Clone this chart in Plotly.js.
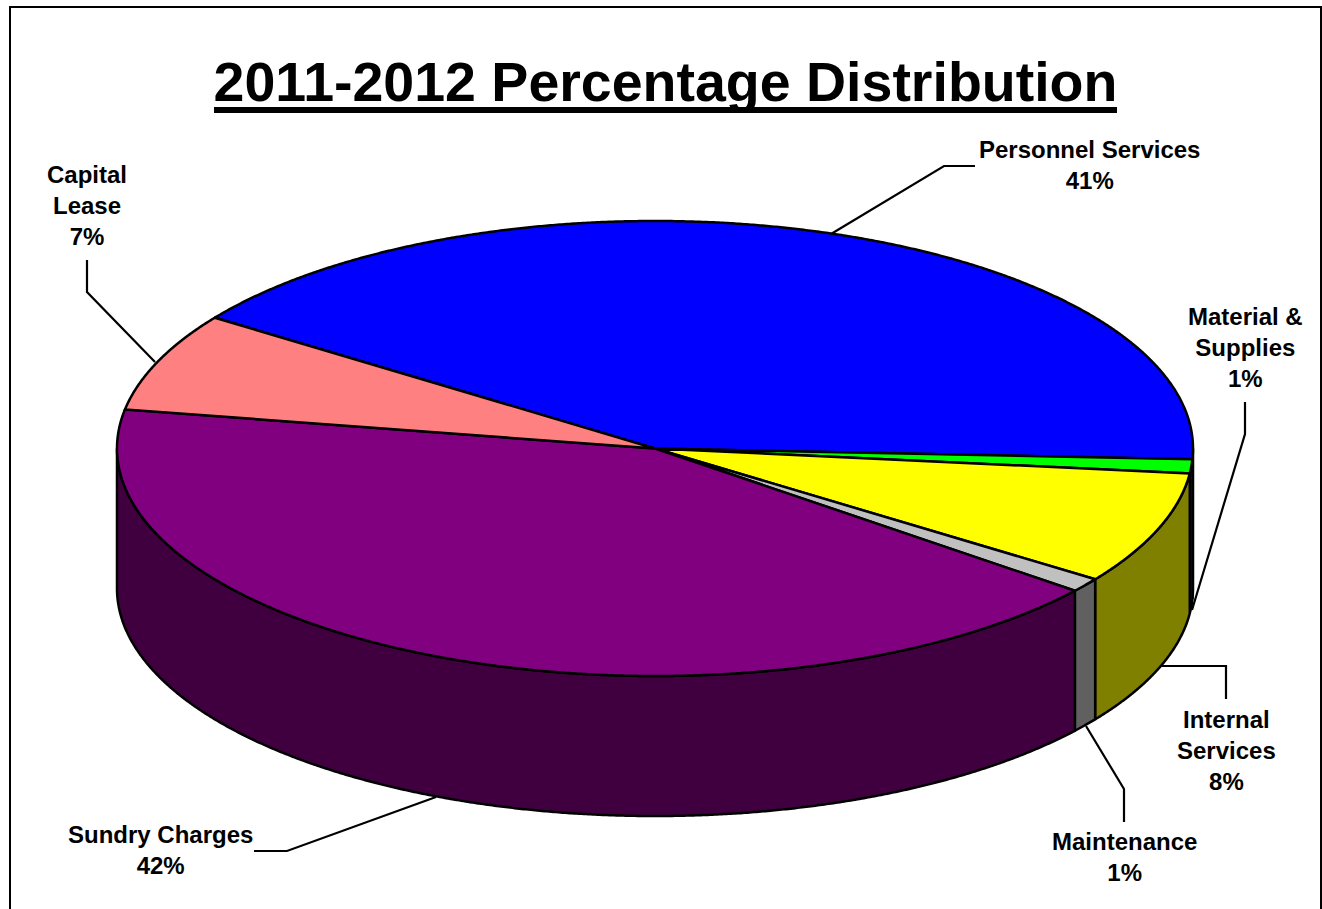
<!DOCTYPE html>
<html>
<head>
<meta charset="utf-8">
<title>2011-2012 Percentage Distribution</title>
<script src="https://cdn.plot.ly/plotly-3.0.1.min.js"></script>
<style>
html,body{margin:0;padding:0;background:#fff;overflow:hidden}
#chart{width:1322px;height:909px}
</style>
</head>
<body>
<div id="chart"></div>
<script>
// Budget shares, clockwise from the first slice
const categories = ['Personnel Services', 'Material & Supplies', 'Internal Services', 'Maintenance', 'Sundry Charges', 'Capital Lease'];
const shares = [41, 1, 8, 1, 42, 7];
const labelLines = [['Personnel Services'], ['Material &', 'Supplies'], ['Internal', 'Services'], ['Maintenance'], ['Sundry Charges'], ['Capital', 'Lease']];
const topColors = ['#0000FF', '#00FF00', '#FFFF00', '#C0C0C0', '#800080', '#FF8080'];
const wallColors = ['#000080', '#008000', '#808000', '#606060', '#400040', '#804040'];

// Label anchors and their elbowed leader lines, in the same order as the categories
const labelX = [1089, 1245, 1226, 1124, 160, 87];
const labelY = [164.5, 347.5, 750, 856.5, 849.5, 205];
const leaderX = [[831, 944, 975], [1245, 1245, 1192], [1162, 1226, 1226], [1086, 1124, 1124], [436, 287, 254], [87, 87, 155]];
const leaderY = [[234, 166, 166], [402, 434, 610], [666, 666, 699], [726, 789, 822], [797, 851, 851], [260, 292, 362]];

// Projected disc: centre, radii, extrusion depth and the angle of the first slice edge
const cx = 655, cy = 448.5, rx = 538, ry = 227.5, depth = 140, startAngle = 305.1;

const rad = d => d * Math.PI / 180;
const px = a => cx + rx * Math.sin(rad(a));
const py = a => cy - ry * Math.cos(rad(a));

function arc(a0, a1) {
  const n = Math.max(2, Math.ceil((a1 - a0) * 4));
  const out = [];
  for (let i = 0; i <= n; i++) out.push(a0 + (a1 - a0) * i / n);
  return out;
}

function polygon(xs, ys, color) {
  return {
    type: 'scatter', mode: 'lines', x: xs, y: ys, fill: 'toself', fillcolor: color,
    line: {color: '#000', width: 2.5, shape: 'linear', simplify: false}, hoverinfo: 'skip', showlegend: false
  };
}

// Turn the shares into cumulative slice angles
const total = shares.reduce((s, v) => s + v, 0);
let running = startAngle;
const spans = shares.map(v => {
  const a0 = running;
  running += v / total * 360;
  return [a0, running];
});

const walls = [], tops = [];
spans.forEach(([a0, a1], i) => {
  // Only the front half of the rim (90 to 270 degrees) is visible
  for (const shift of [0, -360]) {
    const w0 = Math.max(a0 + shift, 90), w1 = Math.min(a1 + shift, 270);
    if (w1 > w0) {
      const t = arc(w0, w1);
      const b = t.slice().reverse();
      walls.push(polygon(
        t.map(px).concat(b.map(px), [px(w0)]),
        t.map(py).concat(b.map(a => py(a) + depth), [py(w0)]),
        wallColors[i]
      ));
    }
  }
  const t = arc(a0, a1);
  tops.push(polygon(
    [cx].concat(t.map(px), [cx]),
    [cy].concat(t.map(py), [cy]),
    topColors[i]
  ));
});

const leaders = categories.map((c, i) => ({
  type: 'scatter', mode: 'lines', x: leaderX[i], y: leaderY[i],
  line: {color: '#000', width: 2.2}, hoverinfo: 'skip', showlegend: false
}));

const annotations = categories.map((c, i) => ({
  x: labelX[i], y: labelY[i], xref: 'x', yref: 'y', xanchor: 'center', yanchor: 'middle',
  showarrow: false, align: 'center',
  text: labelLines[i].concat([shares[i] + '%']).join('<br>'),
  font: {family: 'Liberation Sans, Arial, sans-serif', size: 24, color: '#000', weight: 700}
}));

const layout = {
  width: 1322, height: 909,
  margin: {l: 0, r: 0, t: 0, b: 0},
  paper_bgcolor: '#fff', plot_bgcolor: '#fff',
  showlegend: false,
  title: {
    text: '2011-2012 Percentage Distribution',
    x: 665.5 / 1322, xanchor: 'center', xref: 'paper',
    y: 1 - 82 / 909, yanchor: 'middle', yref: 'container',
    font: {family: 'Liberation Sans, Arial, sans-serif', size: 55.5, color: '#000', weight: 700}
  },
  xaxis: {range: [0, 1322], visible: false, fixedrange: true},
  yaxis: {range: [909, 0], visible: false, fixedrange: true},
  annotations: annotations,
  shapes: [
    // Outer frame, open at the bottom edge of the page
    {
      type: 'path', xref: 'x', yref: 'y', layer: 'above',
      path: 'M10,909 L10,7 L1321,7 L1321,909',
      line: {color: '#000', width: 2}
    },
    // Heavy rule under the heading
    {
      type: 'line', xref: 'x', yref: 'y', layer: 'above',
      x0: 214, x1: 1117, y0: 110, y1: 110,
      line: {color: '#000', width: 6}
    }
  ]
};

Plotly.newPlot('chart', leaders.concat(walls, tops), layout, {displayModeBar: false, staticPlot: true});
</script>
</body>
</html>
